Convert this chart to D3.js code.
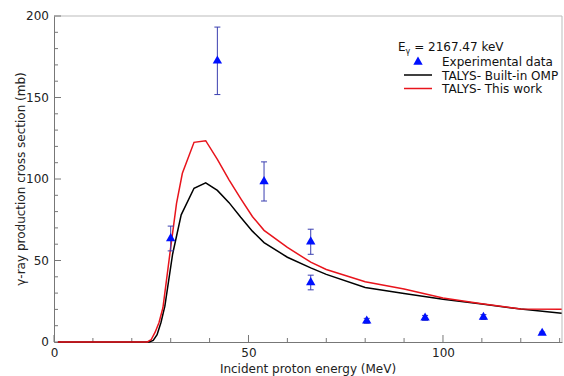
<!DOCTYPE html>
<html>
<head>
<meta charset="utf-8">
<script src="https://cdn.jsdelivr.net/npm/d3@7"></script>
<style>
  body { margin: 0; background: #fff; }
  text { font-family: "DejaVu Sans", sans-serif; }
</style>
</head>
<body>
<div id="container"></div>
<script>
/* DATA */
const expEnergy = [30, 42, 54, 66, 66, 80.4, 95.4, 110.4, 125.5];
const expValue  = [63.5, 172.5, 98.5, 61.5, 36.5, 13, 14.8, 15.3, 5.5];
const expError  = [7.6, 20.7, 12, 7.7, 4.5, 1.5, 1.5, 1.5, 0.6];

const builtinEnergy = [1, 24.5, 25.5, 26.5, 27.5, 28.5, 30.5, 32.7, 36, 39, 42, 45, 48, 51, 54, 60, 66, 70, 80, 90, 100, 110, 120, 130.5];
const builtinValue  = [0, 0, 1, 4.5, 12, 22, 54, 78, 94.3, 97.7, 93, 85.5, 76.5, 68, 61, 52, 45.5, 41.5, 33.5, 29.8, 26.2, 23.3, 20.2, 17.6];

const thisWorkEnergy = [1, 24, 25, 26, 27, 28, 30, 31.5, 33, 36, 39, 42, 45, 48, 51, 54, 60, 66, 70, 80, 90, 100, 110, 120, 130.5];
const thisWorkValue  = [0, 0, 1.5, 6, 12, 21, 58, 85, 103.5, 122.5, 123.5, 112, 99.5, 88, 77, 68.5, 58, 49, 44.5, 37, 32.5, 27, 23.5, 20.3, 20.1];

const xTicks = [0, 50, 100];
const yTicks = [0, 50, 100, 150, 200];

/* CONSTANTS */
const width = 564, height = 376;
const plotLeft = 54, plotRight = 562, plotTop = 16, plotBottom = 342;

const svg = d3.select("#container")
  .append("svg")
  .attr("width", width)
  .attr("height", height);

/* SCALES */
const xScale = d3.scaleLinear().domain([0, 130.6]).range([plotLeft, plotRight]);
const yScale = d3.scaleLinear().domain([0, 200]).range([plotBottom, plotTop]);

// light frame on top and right
svg.append("line").attr("x1", plotLeft).attr("x2", plotRight).attr("y1", plotTop).attr("y2", plotTop)
  .style("stroke", "#bbb");
svg.append("line").attr("x1", plotRight).attr("x2", plotRight).attr("y1", plotTop).attr("y2", plotBottom)
  .style("stroke", "#bbb");

// minor ticks, pointing inward
const xMinor = d3.range(0, 131, 10);
const yMinor = d3.range(0, 201, 10);
svg.selectAll(".xminor").data(xMinor).join("line")
  .attr("x1", d => xScale(d)).attr("x2", d => xScale(d))
  .attr("y1", plotBottom).attr("y2", d => plotBottom - (d % 50 === 0 ? 7 : 4))
  .style("stroke", "#777");
svg.selectAll(".yminor").data(yMinor).join("line")
  .attr("y1", d => yScale(d)).attr("y2", d => yScale(d))
  .attr("x1", plotLeft).attr("x2", d => plotLeft + (d % 50 === 0 ? 7 : 4))
  .style("stroke", "#777");

// axes
const xAxis = d3.axisBottom(xScale).tickValues(xTicks).tickSize(0).tickPadding(6);
const gx = svg.append("g").attr("transform", `translate(0, ${plotBottom})`).call(xAxis);
gx.select(".domain").style("stroke", "#777");
gx.selectAll("text").style("font-size", "12px").style("fill", "#222");

const yAxis = d3.axisLeft(yScale).tickValues(yTicks).tickSize(0).tickPadding(5);
const gy = svg.append("g").attr("transform", `translate(${plotLeft}, 0)`).call(yAxis);
gy.select(".domain").style("stroke", "#777");
gy.selectAll("text").style("font-size", "12px").style("fill", "#222");

// axis labels
svg.append("text")
  .attr("x", (plotLeft + plotRight) / 2)
  .attr("y", 373)
  .attr("text-anchor", "middle")
  .style("font-size", "12px")
  .style("fill", "#222")
  .text("Incident proton energy (MeV)");

svg.append("text")
  .attr("transform", `translate(25, ${(plotTop + plotBottom) / 2}) rotate(-90)`)
  .attr("text-anchor", "middle")
  .style("font-size", "12px")
  .style("fill", "#222")
  .text("γ-ray production cross section (mb)");

/* LINES */
const line = d3.line().x(d => xScale(d[0])).y(d => yScale(d[1]));
svg.append("path")
  .datum(builtinEnergy.map((e, i) => [e, builtinValue[i]]))
  .attr("d", line)
  .style("fill", "none").style("stroke", "black").style("stroke-width", 1.5);
svg.append("path")
  .datum(thisWorkEnergy.map((e, i) => [e, thisWorkValue[i]]))
  .attr("d", line)
  .style("fill", "none").style("stroke", "#e8141c").style("stroke-width", 1.5);

/* EXPERIMENTAL POINTS */
const exp = expEnergy.map((e, i) => ({e: e, v: expValue[i], err: expError[i]}));
const bars = svg.selectAll(".err").data(exp).join("g").attr("class", "err");
bars.append("line")
  .attr("x1", d => xScale(d.e)).attr("x2", d => xScale(d.e))
  .attr("y1", d => yScale(d.v - d.err)).attr("y2", d => yScale(d.v + d.err))
  .style("stroke", "#3a3fb0");
[-1, 1].forEach(s => {
  bars.append("line")
    .attr("x1", d => xScale(d.e) - 3).attr("x2", d => xScale(d.e) + 3)
    .attr("y1", d => yScale(d.v + s * d.err)).attr("y2", d => yScale(d.v + s * d.err))
    .style("stroke", "#3a3fb0");
});
const tri = d3.symbol().type(d3.symbolTriangle).size(38);
svg.selectAll(".pt").data(exp).join("path")
  .attr("transform", d => `translate(${xScale(d.e)}, ${yScale(d.v)})`)
  .attr("d", tri)
  .style("fill", "#0010ff");

/* LEGEND */
const lg = svg.append("g").style("font-size", "12px").style("fill", "#111");
const title = lg.append("text").attr("x", 398).attr("y", 51);
title.append("tspan").text("E");
title.append("tspan").attr("dy", 3).style("font-size", "8px").text("γ");
title.append("tspan").attr("dy", -3).text(" = 2167.47 keV");

lg.append("path").attr("transform", "translate(418, 62)").attr("d", tri).style("fill", "#0010ff");
lg.append("text").attr("x", 442).attr("y", 66).text("Experimental data");
lg.append("line").attr("x1", 404).attr("x2", 432).attr("y1", 75).attr("y2", 75)
  .style("stroke", "black").style("stroke-width", 1.5);
lg.append("text").attr("x", 442).attr("y", 79.5).text("TALYS- Built-in OMP");
lg.append("line").attr("x1", 404).attr("x2", 432).attr("y1", 88.5).attr("y2", 88.5)
  .style("stroke", "#e8141c").style("stroke-width", 1.5);
lg.append("text").attr("x", 442).attr("y", 93).text("TALYS- This work");
</script>
</body>
</html>
